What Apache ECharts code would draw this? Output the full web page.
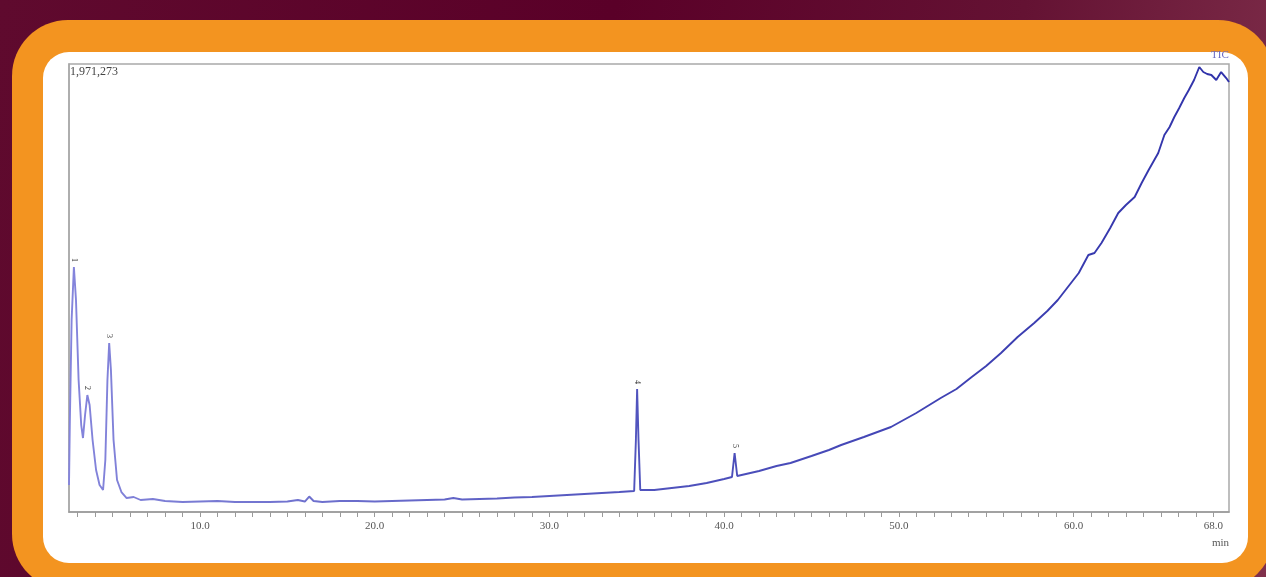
<!DOCTYPE html>
<html>
<head>
<meta charset="utf-8">
<script src="https://cdn.jsdelivr.net/npm/echarts@6/dist/echarts.min.js"></script>
<style>
  html, body { margin:0; padding:0; width:1266px; height:577px; overflow:hidden; }
  body { background: linear-gradient(100deg, #5f0a2e 0%, #5a0028 45%, #641233 75%, #80304c 100%); position:relative; }
  #orange { position:absolute; left:12px; top:20px; width:1262px; height:570px; background:#f39420; border-radius:56px; }
  #white { position:absolute; left:43px; top:52px; width:1205px; height:511px; background:#ffffff; border-radius:26px; }
  #chart { position:absolute; left:0; top:0; width:1266px; height:577px; }
</style>
</head>
<body>
<div id="orange"></div>
<div id="white"></div>
<div id="chart"></div>
<script>
// Retention time (min)
const times = [
  2.5, 2.55, 2.65, 2.78, 2.9, 3.05, 3.2, 3.3, 3.42, 3.55, 3.68, 3.85, 4.05, 4.25, 4.45,
  4.58, 4.7, 4.8, 4.9, 5.05, 5.25, 5.5, 5.8, 6.2, 6.6, 7.3, 8, 9, 10, 11, 12, 13, 14, 15,
  15.6, 16.0, 16.25, 16.5, 17, 18, 19, 20, 21, 22, 23, 24, 24.5, 25, 26, 27, 28, 29, 30,
  31, 32, 33, 34, 34.85, 34.95, 35.02, 35.1, 35.2, 36, 37, 38, 39, 40, 40.45, 40.6, 40.75,
  41, 42, 43, 43.8, 45, 46, 46.7, 48, 49.55, 51, 52.4, 53.3, 54.1, 55, 55.85, 56.8, 57.75,
  58.5, 59.1, 60.3, 60.85, 61.2, 61.6, 62.1, 62.56, 63.0, 63.5, 63.9, 64.3, 64.85, 65.2,
  65.5, 65.77, 66.05, 66.34, 66.6, 66.9, 67.2, 67.43, 67.65, 67.89, 68.17, 68.45, 68.74, 68.9
];
// TIC intensity (counts)
const intensity = [
  118800, 404800, 844800, 1078000, 932800, 580800, 382800, 325600, 426800, 514800, 470800, 316800, 184800, 118800, 96800,
  228800, 580800, 743600, 624800, 316800, 140800, 88000, 61600, 66000, 52800, 57200, 48400, 44000, 46200, 48400, 44000, 44000, 44000, 46200,
  52800, 46200, 68200, 48400, 44000, 48400, 48400, 46200, 48400, 50600, 52800, 55000, 61600, 55000, 57200, 59400, 63800, 66000, 70400,
  74800, 79200, 83600, 88000, 92400, 316800, 541200, 316800, 96800, 96800, 105600, 114400, 127600, 145200, 154000, 259600, 158400,
  162800, 180400, 202400, 215600, 246400, 272800, 294800, 330000, 374000, 435600, 501600, 541200, 589600, 642400, 699600, 770000, 831600,
  884400, 932800, 1051600, 1130800, 1139600, 1183600, 1249600, 1315600, 1350800, 1386000, 1447600, 1504800, 1579600, 1658800,
  1694000, 1738000, 1777600, 1821600, 1856800, 1900800, 1958000, 1936000, 1927200, 1922800, 1900800, 1936000, 1909600, 1892000
];
// Peak numbers and their apex times
const peakNames = ['1', '2', '3', '4', '5'];
const peakTimes = [2.78, 3.55, 4.8, 35.02, 40.6];

const yMax = 1971273;
const xLabels = [10, 20, 30, 40, 50, 60, 68];
const xTicks = [];
for (let m = 3; m <= 68; m++) xTicks.push(m);

const seriesData = times.map((t, i) => [t, intensity[i]]);
const peakMarks = peakTimes.map((t, k) => ({
  coord: [t, intensity[times.indexOf(t)]],
  label: { formatter: peakNames[k] }
}));

const chart = echarts.init(document.getElementById('chart'), null, { renderer: 'canvas' });
chart.setOption({
  backgroundColor: 'transparent',
  animation: false,
  grid: { left: 69, top: 64, right: 37, bottom: 65, show: true, borderColor: '#a9a9a9', borderWidth: 1.5, backgroundColor: 'transparent' },
  xAxis: {
    type: 'value', min: 2.5, max: 68.9,
    axisLine: { show: true, lineStyle: { color: '#9a9a9a', width: 1.5 } },
    axisTick: { show: true, customValues: xTicks, length: 5, inside: false, lineStyle: { color: '#9a9a9a', width: 1 } },
    axisLabel: { customValues: xLabels, formatter: v => v.toFixed(1), margin: 9, fontSize: 11,
                 fontFamily: 'Liberation Serif', color: '#555' },
    splitLine: { show: false }
  },
  yAxis: {
    type: 'value', min: 0, max: yMax,
    axisLine: { show: true, lineStyle: { color: '#a9a9a9', width: 1.5 } },
    axisTick: { show: false }, axisLabel: { show: false }, splitLine: { show: false }
  },
  graphic: [
    { type: 'text', left: 70, top: 66, style: { text: '1,971,273', fontSize: 12, fontFamily: 'Liberation Serif', fill: '#444' } },
    { type: 'text', left: 1211, top: 50, style: { text: 'TIC', fontSize: 11, fontFamily: 'Liberation Serif', fill: '#6a6ac4' } },
    { type: 'text', left: 1212, top: 538, style: { text: 'min', fontSize: 11, fontFamily: 'Liberation Serif', fill: '#555' } }
  ],
  series: [{
    type: 'line',
    data: seriesData,
    symbol: 'none',
    smooth: false,
    lineStyle: {
      width: 1.9,
      color: new echarts.graphic.LinearGradient(0, 0, 1, 0, [
        { offset: 0, color: '#8585dc' },
        { offset: 0.1, color: '#7a7cd4' },
        { offset: 0.5, color: '#5053bd' },
        { offset: 1, color: '#3032aa' }
      ])
    },
    markPoint: {
      symbol: 'circle',
      symbolSize: 1,
      itemStyle: { color: 'rgba(0,0,0,0)' },
      label: { show: true, position: 'inside', offset: [-7, 0], rotate: -90, fontSize: 8,
               fontFamily: 'Liberation Serif', color: '#333' },
      data: peakMarks
    }
  }]
});
</script>
</body>
</html>
